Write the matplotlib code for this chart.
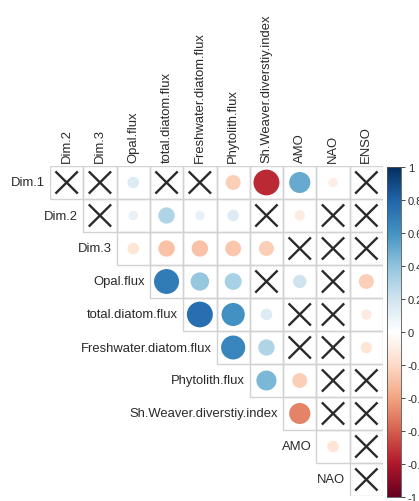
"""Upper-triangle correlation plot (circles sized/coloured by r, X = not significant)."""

import matplotlib

matplotlib.use("Agg")
import matplotlib.pyplot as plt
import numpy as np
from matplotlib.colors import LinearSegmentedColormap
from matplotlib.patches import Circle

plt.rcParams["font.family"] = ["Liberation Sans", "DejaVu Sans"]

row_names = [
    "Dim.1", "Dim.2", "Dim.3", "Opal.flux", "total.diatom.flux",
    "Freshwater.diatom.flux", "Phytolith.flux", "Sh.Weaver.diverstiy.index",
    "AMO", "NAO",
]
col_names = [
    "Dim.2", "Dim.3", "Opal.flux", "total.diatom.flux", "Freshwater.diatom.flux",
    "Phytolith.flux", "Sh.Weaver.diverstiy.index", "AMO", "NAO", "ENSO",
]

# None = not significant (drawn as a cross); row i covers columns i..9
corr_rows = [
    [None, None, 0.15, None, None, -0.25, -0.75, 0.50, -0.10, None],
    [None, 0.10, 0.30, 0.10, 0.15, None, -0.12, None, None],
    [-0.15, -0.30, -0.30, -0.28, -0.25, None, None, None],
    [0.70, 0.38, 0.32, None, 0.20, None, -0.25],
    [0.75, 0.60, 0.15, None, None, -0.12],
    [0.65, 0.30, None, None, -0.15],
    [0.45, -0.25, None, None],
    [-0.50, None, None],
    [-0.15, None],
    [None],
]

cbar_ticks = [-1, -0.8, -0.6, -0.4, -0.2, 0, 0.2, 0.4, 0.6, 0.8, 1]

cmap = LinearSegmentedColormap.from_list(
    "corr_rdbu",
    ["#67001F", "#B2182B", "#D6604D", "#F4A582", "#FDDBC7", "#FFFFFF",
     "#D1E5F0", "#92C5DE", "#4393C3", "#2166AC", "#053061"],
    N=200,
)

W, H = 419, 502
fig = plt.figure(figsize=(W / 100, H / 100), dpi=100)
n = len(col_names)
ax = fig.add_axes([50 / W, 5 / H, 333 / W, 330 / H])
ax.set_xlim(0, n)
ax.set_ylim(n, 0)
ax.axis("off")

for i, row in enumerate(corr_rows):
    for k, val in enumerate(row):
        j = i + k
        ax.add_patch(plt.Rectangle((j, i), 1, 1, fill=False, ec="#d2d2d2", lw=1.0, zorder=1))
        cx, cy = j + 0.5, i + 0.5
        if val is None:
            d = 0.31
            ax.plot([cx - d, cx + d], [cy - d, cy + d], color="#2a2a2a", lw=1.7, zorder=3)
            ax.plot([cx - d, cx + d], [cy + d, cy - d], color="#2a2a2a", lw=1.7, zorder=3)
        else:
            r = 0.9 * np.sqrt(abs(val)) / 2
            ax.add_patch(Circle((cx, cy), r, fc=cmap((val + 1) / 2), ec="none", zorder=2))
    ax.text(i - 0.15, i + 0.5, row_names[i], ha="right", va="center", fontsize=9.4, color="#2a2a2a")

for j, name in enumerate(col_names):
    ax.text(j + 0.5, -0.12, name, rotation=90, ha="center", va="bottom",
            fontsize=9.4, color="#2a2a2a")

# colour legend
cax = fig.add_axes([387 / W, 4 / H, 14 / W, 330 / H])
grad = np.linspace(-1, 1, 200).reshape(-1, 1)
cax.imshow(grad, cmap=cmap, aspect="auto", origin="lower", extent=(0, 1, -1, 1))
cax.set_xticks([])
cax.yaxis.tick_right()
cax.set_yticks(cbar_ticks)
cax.set_yticklabels([f"{t:g}" for t in cbar_ticks])
cax.tick_params(axis="y", length=3, width=0.6, labelsize=8, pad=2, colors="#2a2a2a")
for s in cax.spines.values():
    s.set_linewidth(0.6)
    s.set_color("#555555")

fig.savefig("out.png", dpi=100)
